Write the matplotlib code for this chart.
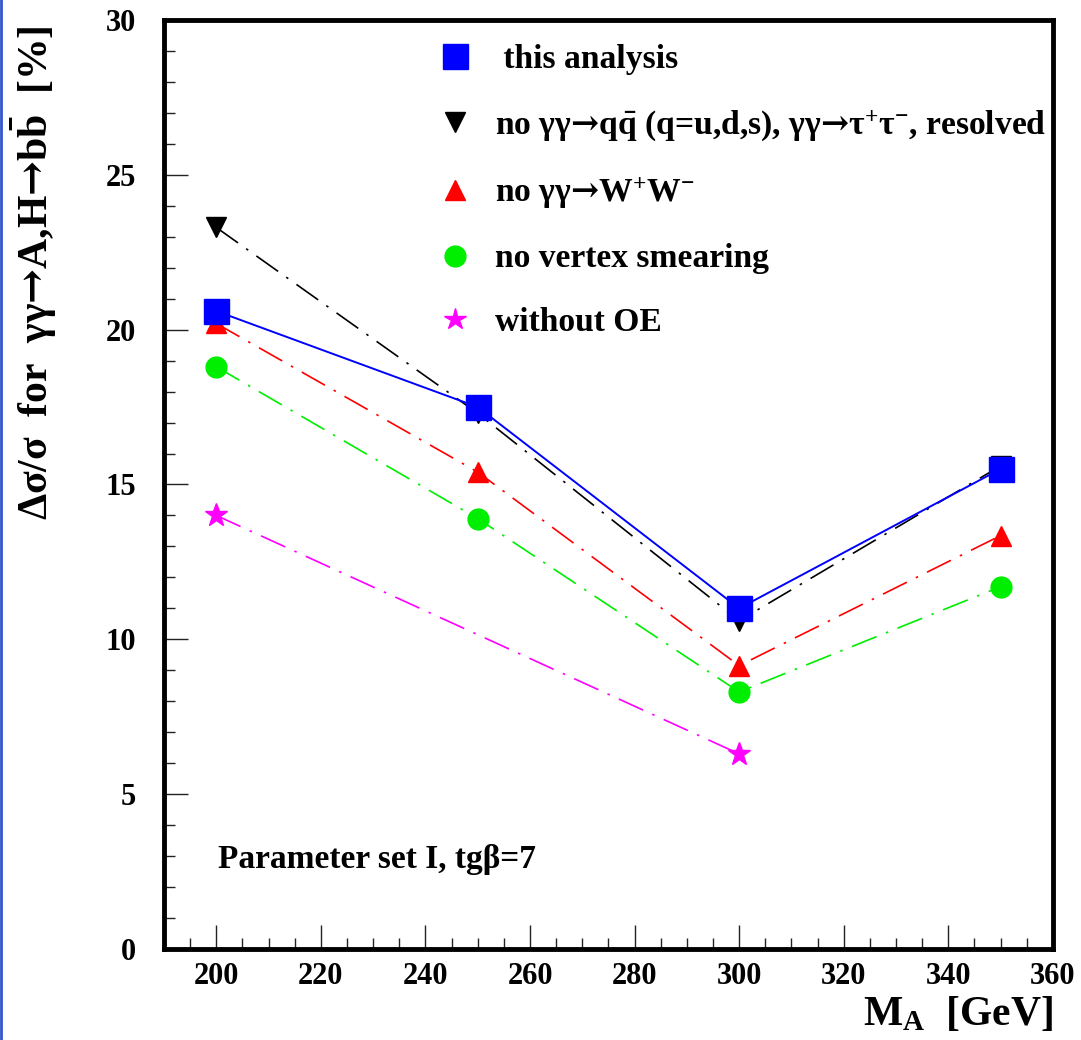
import numpy as np
import matplotlib
matplotlib.use('Agg')
import matplotlib.pyplot as plt
from matplotlib.lines import Line2D

plt.rcParams['font.family'] = ['Liberation Serif', 'DejaVu Serif']
plt.rcParams['font.weight'] = 'bold'
plt.rcParams['mathtext.fontset'] = 'custom'
plt.rcParams['mathtext.rm'] = 'Liberation Serif:bold'
plt.rcParams['mathtext.bf'] = 'Liberation Serif:bold'
plt.rcParams['mathtext.it'] = 'Liberation Serif:bold'
plt.rcParams['mathtext.sf'] = 'DejaVu Serif:bold'

# data
mass = [200, 250, 300, 350]
this_analysis = [20.6, 17.5, 11.0, 15.5]
no_qq = [23.3, 17.3, 10.6, 15.6]
no_ww = [20.2, 15.4, 9.15, 13.35]
no_vertex = [18.8, 13.9, 8.3, 11.7]
mass_oe = [200, 300]
without_oe = [14.0, 6.3]

AR = r'$\mathsf{→}$'
labels = [' this analysis',
          r'no γγ' + AR + r'q$\bar{\mathrm{q}}$ (q=u,d,s), γγ' + AR + r'τ$^{+}$τ$^{-}$, resolved',
          r'no γγ' + AR + r'W$^{+}$W$^{-}$',
          'no vertex smearing',
          'without OE']

fig = plt.figure(figsize=(10.81, 10.40), dpi=100)
ax = fig.add_axes([0.1517, 0.0875, 0.8223, 0.8933])

dd = (0, (16, 6, 1.5, 6))
ax.plot(mass, no_qq, color='black', lw=1.2, ls=dd, marker='v', ms=15, mec='black', zorder=3)
ax.plot(mass, no_ww, color='red', lw=1.2, ls=dd, marker='^', ms=15, mec='red', zorder=3)
ax.plot(mass, no_vertex, color='#00ee00', lw=1.2, ls=dd, marker='o', ms=15, mec='#00ee00', zorder=3)
ax.plot(mass_oe, without_oe, color='magenta', lw=1.2, ls=dd, marker='*', ms=17, mec='magenta', zorder=3)
ax.plot(mass, this_analysis, color='blue', lw=1.4, ls='-', marker='s', ms=18, mec='blue', zorder=4)

# legend handles (markers only)
hl = [Line2D([], [], ls='none', marker='s', ms=18, color='blue'),
      Line2D([], [], ls='none', marker='v', ms=15, color='black'),
      Line2D([], [], ls='none', marker='^', ms=15, color='red'),
      Line2D([], [], ls='none', marker='o', ms=15, color='#00ee00'),
      Line2D([], [], ls='none', marker='*', ms=16, color='magenta')]
leg = ax.legend(hl, labels, loc='upper left', bbox_to_anchor=(0.308, 0.974),
                frameon=False, fontsize=24.2, handlelength=1.0, handletextpad=0.7,
                labelspacing=0.97, borderpad=0, borderaxespad=0)

ax.set_xlim(190, 360)
ax.set_ylim(0, 30)
ax.set_xticks(np.arange(200, 361, 20))
ax.set_xticks(np.arange(190, 361, 5), minor=True)
ax.set_yticks(np.arange(0, 31, 5))
ax.set_yticks(np.arange(0, 31, 1), minor=True)
ax.tick_params(axis='both', which='both', direction='in', top=False, right=False,
               labelsize=22, width=1.0, color='#222222')
ax.tick_params(axis='both', which='major', length=17)
ax.tick_params(axis='both', which='minor', length=8)
ax.tick_params(axis='y', which='major', pad=20)
ax.tick_params(axis='x', which='major', pad=9)
for lab in ax.get_xticklabels() + ax.get_yticklabels():
    lab.set_fontweight('bold')
for s in ax.spines.values():
    s.set_linewidth(3.5)

ax.text(0.061, 0.096, 'Parameter set I, tgβ=7', transform=ax.transAxes,
        fontsize=24, ha='left', va='center')

ax.text(-0.146, 0.728, r'Δσ/σ  for  γγ' + AR + 'A,H' + AR + r'b$\bar{\mathrm{b}}$  [%]',
        transform=ax.transAxes, rotation=90, fontsize=30, ha='center', va='center')
ax.text(1.0, -0.07, r'M$_{\mathrm{A}}$  [GeV]', transform=ax.transAxes,
        fontsize=30, ha='right', va='center')

fig.add_artist(Line2D([0.001, 0.001], [0, 1], color='#3355cc', lw=2, transform=fig.transFigure))

fig.savefig('out.png', dpi=100)
